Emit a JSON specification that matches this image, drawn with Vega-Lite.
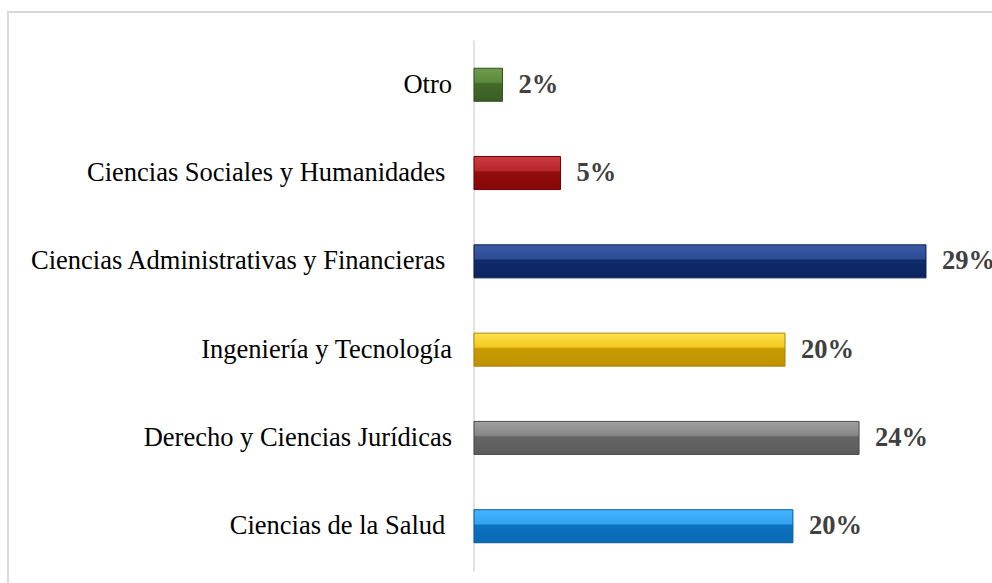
{
  "$schema": "https://vega.github.io/schema/vega-lite/v6.json",
  "autosize": {"type": "none"},
  "padding": {"left": 8, "top": 12, "right": -6, "bottom": -6},
  "width": 990,
  "height": 577,
  "background": "white",
  "config": {
    "view": {"stroke": "#d9d9d9", "strokeWidth": 2},
    "font": "Liberation Serif"
  },
  "data": {
    "values": [
      {"area": "Otro", "share": 0.018},
      {"area": "Ciencias Sociales y Humanidades\u00a0\u200b", "share": 0.0547},
      {"area": "Ciencias Administrativas y Financieras\u00a0\u200b", "share": 0.2857},
      {"area": "Ingeniería y Tecnología", "share": 0.1966},
      {"area": "Derecho y Ciencias Jurídicas", "share": 0.2434},
      {"area": "Ciencias de la Salud\u00a0\u200b", "share": 0.2016}
    ]
  },
  "encoding": {
    "y": {
      "field": "area",
      "type": "nominal",
      "sort": null,
      "scale": {"range": [28, 559], "paddingInner": 0.626, "paddingOuter": 0.32},
      "axis": {
        "title": null,
        "offset": -465.5,
        "ticks": false,
        "domainColor": "#d9d9d9",
        "domainWidth": 1.5,
        "labelFont": "Liberation Serif",
        "labelFontSize": 26.5,
        "labelColor": "#000000",
        "labelPadding": 22,
        "labelLimit": 600
      }
    },
    "x": {
      "field": "share",
      "type": "quantitative",
      "scale": {"domain": [0, 0.3], "range": [466, 940.6], "nice": false, "zero": true},
      "axis": null
    }
  },
  "layer": [
    {
      "transform": [{"filter": "datum.area === 'Otro'"}],
      "mark": {
        "type": "bar", "stroke": "#30501c", "strokeWidth": 1,
        "fill": {"gradient": "linear", "x1": 0, "y1": 0, "x2": 0, "y2": 1,
          "stops": [
            {"offset": 0, "color": "#6d9c4c"},
            {"offset": 0.42, "color": "#5b8a3b"},
            {"offset": 0.47, "color": "#44692b"},
            {"offset": 1, "color": "#3a5d24"}
          ]}
      }
    },
    {
      "transform": [{"filter": "indexof(datum.area, 'Sociales') >= 0"}],
      "mark": {
        "type": "bar", "stroke": "#6e0000", "strokeWidth": 1,
        "fill": {"gradient": "linear", "x1": 0, "y1": 0, "x2": 0, "y2": 1,
          "stops": [
            {"offset": 0, "color": "#cc3c42"},
            {"offset": 0.42, "color": "#b8262c"},
            {"offset": 0.47, "color": "#920d0f"},
            {"offset": 1, "color": "#850606"}
          ]}
      }
    },
    {
      "transform": [{"filter": "indexof(datum.area, 'Administrativas') >= 0"}],
      "mark": {
        "type": "bar", "stroke": "#0a1d4e", "strokeWidth": 1,
        "fill": {"gradient": "linear", "x1": 0, "y1": 0, "x2": 0, "y2": 1,
          "stops": [
            {"offset": 0, "color": "#3a5ca6"},
            {"offset": 0.42, "color": "#2c4c94"},
            {"offset": 0.47, "color": "#112b6b"},
            {"offset": 1, "color": "#0b2360"}
          ]}
      }
    },
    {
      "transform": [{"filter": "indexof(datum.area, 'Ingenier') >= 0"}],
      "mark": {
        "type": "bar", "stroke": "#a88400", "strokeWidth": 1,
        "fill": {"gradient": "linear", "x1": 0, "y1": 0, "x2": 0, "y2": 1,
          "stops": [
            {"offset": 0, "color": "#ffe34a"},
            {"offset": 0.42, "color": "#f2c820"},
            {"offset": 0.47, "color": "#c89a00"},
            {"offset": 1, "color": "#bf9200"}
          ]}
      }
    },
    {
      "transform": [{"filter": "indexof(datum.area, 'Derecho') >= 0"}],
      "mark": {
        "type": "bar", "stroke": "#4a4a4a", "strokeWidth": 1,
        "fill": {"gradient": "linear", "x1": 0, "y1": 0, "x2": 0, "y2": 1,
          "stops": [
            {"offset": 0, "color": "#a0a0a0"},
            {"offset": 0.42, "color": "#878787"},
            {"offset": 0.47, "color": "#646464"},
            {"offset": 1, "color": "#5c5c5c"}
          ]}
      }
    },
    {
      "transform": [{"filter": "indexof(datum.area, 'Salud') >= 0"}],
      "mark": {
        "type": "bar", "stroke": "#085a9e", "strokeWidth": 1,
        "fill": {"gradient": "linear", "x1": 0, "y1": 0, "x2": 0, "y2": 1,
          "stops": [
            {"offset": 0, "color": "#45b4ff"},
            {"offset": 0.42, "color": "#33a5f2"},
            {"offset": 0.47, "color": "#0d72c0"},
            {"offset": 1, "color": "#0a6ab5"}
          ]}
      }
    },
    {
      "mark": {
        "type": "text",
        "align": "left",
        "baseline": "middle",
        "dx": 16,
        "font": "Liberation Serif",
        "fontSize": 26.5,
        "fontWeight": "bold",
        "color": "#404040"
      },
      "encoding": {
        "text": {"field": "share", "type": "quantitative", "format": ".0%"}
      }
    }
  ]
}
